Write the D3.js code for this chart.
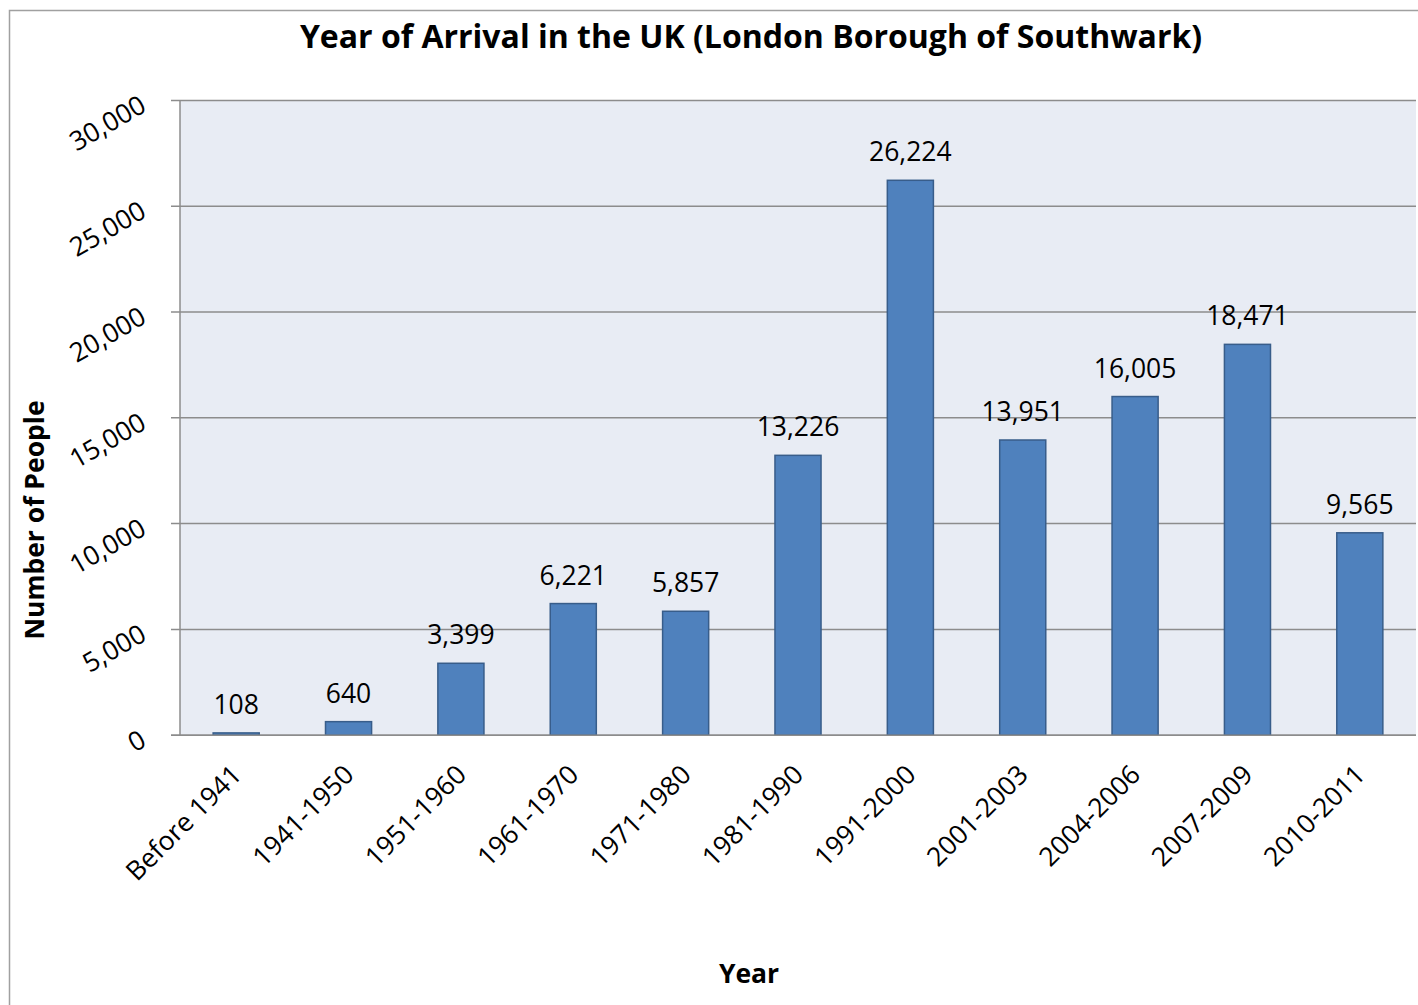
<!DOCTYPE html>
<html lang="en">
<head>
    <meta charset="UTF-8">
    <title>Year of Arrival in the UK</title>
    <style>
        body { margin: 0; padding: 0; background: #fff; }
        svg { display: block; font-family: "Open Sans", Arial, sans-serif; }
        .grid line { stroke: #8c8c8c; stroke-width: 1.5px; }
        .bar { fill: #4f81bd; stroke: #385d8a; stroke-width: 1.5px; }
        .label { font-size: 26.5px; fill: #000; text-anchor: middle; }
        .tick-y { font-size: 26.5px; fill: #000; text-anchor: end; }
        .tick-x { font-size: 26.5px; fill: #000; text-anchor: end; }
        .title { font-size: 32px; font-weight: bold; text-anchor: middle; }
        .axis-title { font-size: 26.5px; font-weight: bold; text-anchor: middle; }
    </style>
</head>
<body>
<svg id="chart" width="1418" height="1005"></svg>
<script src="https://d3js.org/d3.v7.min.js"></script>
<script>
    const categories = ['Before 1941', '1941-1950', '1951-1960', '1961-1970', '1971-1980',
        '1981-1990', '1991-2000', '2001-2003', '2004-2006', '2007-2009', '2010-2011'];
    const values = [108, 640, 3399, 6221, 5857, 13226, 26224, 13951, 16005, 18471, 9565];
    const yTicks = [0, 5000, 10000, 15000, 20000, 25000, 30000];

    const svg = d3.select('#chart');
    const plotLeft = 180, plotRight = 1416, plotTop = 100.4, plotBottom = 735.2;
    const fmt = d3.format(',');

    // outer chart border
    svg.append('rect')
        .attr('x', 9.5).attr('y', 10.5)
        .attr('width', 1430).attr('height', 1010)
        .attr('fill', 'none')
        .attr('stroke', '#a0a0a0')
        .attr('stroke-width', 1.5);

    const x = d3.scaleBand()
        .domain(categories)
        .range([plotLeft, plotRight])
        .paddingInner(0.59)
        .paddingOuter(0.295);

    const y = d3.scaleLinear()
        .domain([0, 30000])
        .range([plotBottom, plotTop]);

    // plot background
    svg.append('rect')
        .attr('x', plotLeft).attr('y', plotTop)
        .attr('width', plotRight - plotLeft).attr('height', plotBottom - plotTop)
        .attr('fill', '#e8ecf4');

    // gridlines (incl. tick stubs on the left)
    svg.append('g').attr('class', 'grid')
        .selectAll('line')
        .data(yTicks)
        .enter().append('line')
        .attr('x1', 171).attr('x2', plotRight)
        .attr('y1', d => y(d)).attr('y2', d => y(d));

    // left axis line
    svg.append('line')
        .attr('x1', plotLeft).attr('x2', plotLeft)
        .attr('y1', plotTop).attr('y2', plotBottom)
        .attr('stroke', '#8c8c8c').attr('stroke-width', 1.5);

    // bars
    svg.selectAll('.bar')
        .data(values)
        .enter().append('rect')
        .attr('class', 'bar')
        .attr('x', (d, i) => x(categories[i]))
        .attr('width', x.bandwidth())
        .attr('y', d => y(d))
        .attr('height', d => y(0) - y(d));

    // baseline drawn over bars
    svg.append('line')
        .attr('x1', 171).attr('x2', plotRight)
        .attr('y1', y(0)).attr('y2', y(0))
        .attr('stroke', '#8c8c8c').attr('stroke-width', 1.5);

    // data labels
    svg.selectAll('.label')
        .data(values)
        .enter().append('text')
        .attr('class', 'label')
        .attr('x', (d, i) => x(categories[i]) + x.bandwidth() / 2)
        .attr('y', d => y(d) - 19)
        .text(d => fmt(d));

    // y tick labels, rotated
    svg.selectAll('.tick-y')
        .data(yTicks)
        .enter().append('text')
        .attr('class', 'tick-y')
        .attr('transform', d => `translate(148,${y(d) + 10}) rotate(-30)`)
        .text(d => fmt(d));

    // x tick labels, rotated
    svg.selectAll('.tick-x')
        .data(categories)
        .enter().append('text')
        .attr('class', 'tick-x')
        .attr('transform', d => `translate(${x(d) + x.bandwidth() / 2 + 7},${plotBottom + 41}) rotate(-45)`)
        .text(d => d);

    // titles
    svg.append('text')
        .attr('class', 'title')
        .attr('x', 751).attr('y', 48)
        .text('Year of Arrival in the UK (London Borough of Southwark)');

    svg.append('text')
        .attr('class', 'axis-title')
        .attr('transform', 'translate(44,520) rotate(-90)')
        .text('Number of People');

    svg.append('text')
        .attr('class', 'axis-title')
        .attr('x', 749).attr('y', 983)
        .text('Year');
</script>
</body>
</html>
